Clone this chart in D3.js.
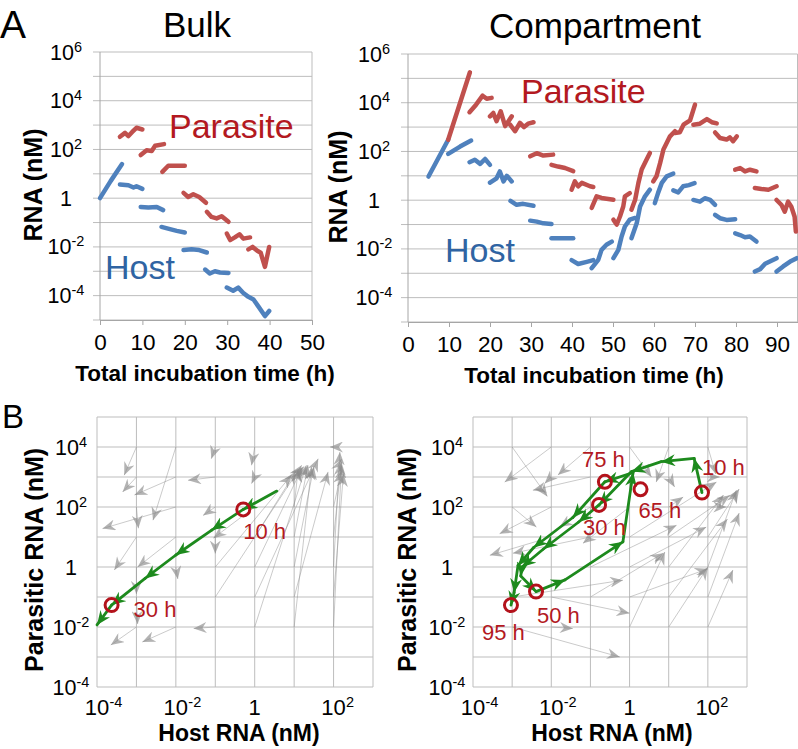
<!DOCTYPE html>
<html>
<head>
<meta charset="utf-8">
<script src="https://cdn.jsdelivr.net/npm/d3@7"></script>
<style>
  body { margin: 0; background: #fff; }
  svg { font-family: "Liberation Sans", Arial, sans-serif; }
</style>
</head>
<body>
<div id="chart"></div>
<script>
// ---- data (time in h, values as log10 of nM) ----
const bulkTimeTicks = [0, 10, 20, 30, 40, 50];
const compTimeTicks = [0, 10, 20, 30, 40, 50, 60, 70, 80, 90];
const topDecadeLabels = [6, 4, 2, 0, -2, -4];
const hostDecadeLabels = [-4, -2, 0, 2];
const parasiteDecadeLabels = [4, 2, 0, -2, -4];

// each inner list is one serial-transfer round: [time, log10 RNA]
const bulkHost = [
  [[0, 0], [2.5, 0.7], [5.2, 1.4]],
  [[4.7, 0.56], [6.7, 0.53], [7.9, 0.44], [8.6, 0.49], [10, 0.38]],
  [[9.6, -0.36], [11.4, -0.38], [13.4, -0.36], [14.9, -0.49]],
  [[14.5, -1.18], [16.5, -1.27], [18.1, -1.34], [20, -1.41]],
  [[19.7, -2.13], [21.6, -2.1], [23.4, -2.13], [25.2, -2.23]],
  [[24.8, -2.93], [25.9, -3.09], [27.1, -3.0], [28.3, -3.05], [30.3, -3.07]],
  [[29.9, -3.67], [31.4, -3.8], [32.6, -3.67], [33.8, -3.89], [35, -4.05], [36.2, -4.16], [37.3, -4.43], [38.9, -4.84], [39.9, -4.63]]
];
const bulkParasite = [
  [[4.7, 2.52], [5.9, 2.68], [6.7, 2.55], [7.6, 2.72], [8.6, 2.89], [10, 2.82]],
  [[9.6, 1.77], [11, 1.97], [12.2, 1.94], [13, 2.15], [15.1, 2.22]],
  [[14.7, 1.08], [16.1, 1.33], [20, 1.33]],
  [[19.7, 0.22], [20.8, 0.05], [22, 0.16], [23.4, 0.05], [25, -0.19]],
  [[25.2, -0.56], [26.3, -0.77], [27.5, -0.83], [28.7, -0.74], [30.3, -0.97]],
  [[29.9, -1.45], [30.7, -1.72], [31.8, -1.61], [32.9, -1.48], [33.8, -1.66], [35.4, -1.61]],
  [[35, -2.1], [36, -2.0], [37.1, -2.16], [37.9, -2.24], [38.9, -2.82], [39.9, -2.0]]
];
const compHost = [
  [[5, 0.97], [9.8, 2.48]],
  [[9.8, 1.9], [12.7, 2.2], [15.4, 2.45]],
  [[15, 1.56], [16.3, 1.66], [17.6, 1.49], [18.8, 1.69], [20, 1.45]],
  [[20, 0.72], [21.6, 0.9], [22.4, 1.18], [23.3, 0.77], [24.1, 1.0], [25.3, 0.77]],
  [[25, -0.03], [26.5, -0.19], [28.1, -0.15], [30.6, -0.23]],
  [[29.8, -0.84], [31.4, -0.88], [33, -0.95], [35, -0.98]],
  [[35, -1.56], [40.3, -1.56]],
  [[39.9, -2.46], [41.5, -2.62], [43.6, -2.53], [45.2, -2.46]],
  [[44.8, -2.79], [46.4, -2.45], [47.2, -2.04], [48.4, -1.83], [49.7, -1.7]],
  [[50.1, -2.38], [51.3, -2.04], [52.1, -1.49], [52.9, -1.08], [54.1, -0.8], [55.4, -0.73]],
  [[54.5, -1.56], [55.8, -0.94], [56.6, -0.26], [57.8, 0.16], [59, 0.43]],
  [[60.2, -0.12], [61, 0.3], [61.9, 0.71], [63.1, 0.98], [64.7, 1.09]],
  [[64.7, 0.4], [65.9, 0.32], [67.1, 0.57], [68.5, 0.62], [69.9, 0.7]],
  [[69.6, 0.01], [71.2, -0.06], [72.4, 0.08], [73.7, 0.01], [74.9, -0.19]],
  [[74.9, -0.6], [76.1, -0.74], [77.7, -0.81], [79.8, -0.78]],
  [[79.8, -1.36], [81, -1.43], [82.2, -1.52], [83.4, -1.49], [85, -1.7]],
  [[84.6, -2.93], [85.9, -2.83], [87.1, -2.61], [89.9, -2.38]],
  [[89.9, -2.93], [91.5, -2.72], [93.2, -2.52], [94.8, -2.38]]
];
const compParasite = [
  [[9.8, 2.48], [15.1, 5.25]],
  [[15, 3.61], [16.6, 3.92], [18.2, 4.29], [19.2, 4.16], [20.4, 4.2]],
  [[20, 3.44], [20.8, 3.58], [21.6, 3.24], [22.6, 3.65], [23.7, 3.04], [24.5, 3.24], [25.3, 3.44]],
  [[24.9, 3.1], [26.1, 2.83], [27.3, 3.17], [28.3, 3.0], [29.3, 3.14], [30.6, 3.2]],
  [[29.8, 1.8], [31.4, 1.93], [33, 1.83], [35.4, 1.87]],
  [[35, 1.45], [36.6, 1.38], [38.3, 1.32], [40.3, 1.19]],
  [[39.9, 0.43], [40.7, 0.77], [41.5, 0.57], [42.4, 0.71], [44.4, 0.57], [45.2, 0.54]],
  [[44.8, -0.32], [46, 0.16], [47.2, 0.09], [50.1, 0.02]],
  [[50.1, -0.8], [50.9, -1.0], [51.7, -0.67], [52.5, -0.26], [52.9, 0.16], [54.1, 0.29]],
  [[54.5, -0.39], [55.4, 0.02], [56.2, 0.71], [57, 1.26], [58.2, 1.67], [59, 1.94]],
  [[59.8, 0.77], [60.6, 0.98], [61.5, 1.53], [62.3, 2.08], [63.9, 2.62], [65.1, 2.83]],
  [[65.1, 2.76], [66.3, 2.79], [67.2, 3.1], [68.8, 3.28], [70, 3.92]],
  [[69.6, 3.1], [71.2, 3.14], [72.9, 3.33], [74.1, 3.2], [75.3, 3.15]],
  [[74.9, 2.78], [76.1, 2.55], [77.7, 2.49], [78.5, 2.58], [79.3, 2.42], [80.2, 2.62]],
  [[79.8, 1.25], [81, 1.32], [82.2, 1.18], [83.4, 1.25], [85, 1.18]],
  [[84.6, 0.5], [86.2, 0.46], [87.9, 0.43], [89.9, 0.57]],
  [[89.9, 0.01], [91.1, -0.2], [91.9, -0.47], [92.7, -0.06], [93.5, -0.27], [94.3, -0.68], [94.6, -1.29]]
];

// vector field: [log host start, log parasite start, log host end, log parasite end]
const bulkField = [
  [-3, 4, -3.31, 3.06], [-2, 4, -2.58, 1.56], [-1, 4, -1.1, 3.61], [0, 4, -0.08, 3.39],
  [-2, 3, -3.05, 2.4], [-3, 3, -3.35, 2.5], [-1, 3, -1.69, 2.89], [0, 3, -0.08, 2.78],
  [-2, 2, -3.86, 1.28], [-3, 2, -2.95, 1.29], [-1, 2, -1.31, 1.72], [0, 2, -1.05, 0.96],
  [-3, 1, -3.56, -0.1], [-2, 1, -2.97, 0.0], [-2, 0, -1.95, -0.4], [-3, 0, -3.0, -0.9],
  [-3, -1, -2.97, -1.9], [-3, -2, -3.65, -2.6], [-2, -2, -2.85, -2.5], [-1, -2, -1.55, -2.05],
  [-1, 1, -1.0, 0.45],
  [-1, 0, 0.93, 3.06], [-1, -1, 1.19, 3.39], [0, -2, 1.31, 3.39], [1, -2, 1.44, 3.33],
  [2, -2, 2.2, 3.39], [0, -1, 1.61, 3.61], [1, -1, 1.86, 3.17], [2, -1, 2.25, 3.11],
  [0, 0, 1.2, 3.3], [1, 0, 1.5, 3.35], [2, 0, 2.16, 3.83], [0, 1, 1.05, 3.2],
  [1, 1, 1.35, 3.4], [2, 1, 2.2, 3.5], [1, 2, 1.1, 3.25], [2, 2, 2.2, 3.2],
  [1, 3, 1.25, 3.35], [2, 3, 2.2, 3.6], [2, 4, 1.91, 4.0]
];
const compField = [
  [-3, 4, -2.1, 2.35], [-2, 4, -3.19, 2.83], [-1, 4, -1.83, 3.07], [-1, 3, -2.47, 2.56],
  [-2, 3, -2.17, 2.78], [-2, 2, -3.32, 1.11], [-3, 2, -2.38, 1.33], [-2, 1, -3.57, 0.39],
  [-1, 1, -2.98, 0.46], [-1, 2, -1.79, 1.33], [0, 2, -1.19, 0.79], [0, 4, 0.56, 3.0],
  [1, 4, 0.68, 2.83], [1, 3, 1.15, 2.67], [1, 2, 1.37, 2.33], [2, 4, 2.2, 3.1],
  [-3, -2, -0.25, -3.0], [-2, -2, -1.45, -2.05], [-3, -1, -0.17, -0.44], [-2, -1, 0.0, -1.54],
  [-1, -1, 0.86, 0.46], [0, -2, 0.9, 0.5], [1, -2, 2.0, 0.0], [2, -2, 2.64, -0.1],
  [0, -1, 2.0, -0.06], [1, -1, 2.5, 1.6], [2, -1, 2.8, 1.8], [-1, 0, 1.2, 1.39],
  [0, 0, 1.96, 1.33], [1, 0, 2.4, 2.4], [2, 0, 2.73, 2.56], [0, 1, 2.22, 2.83],
  [1, 1, 2.56, 2.39], [2, 1, 2.8, 2.6], [2, 2, 2.47, 2.0], [2, 3, 2.3, 3.0]
];

// green trajectories: [log host, log parasite]
const bulkTrajectory = [
  [[0.56, 2.53], [-0.29, 1.92], [-1.09, 1.23], [-2.0, 0.4], [-2.78, -0.38], [-3.63, -1.27], [-4.0, -1.93]]
];
const compTrajectory = [
  [[1.85, 2.48], [1.65, 3.62], [0.81, 3.51], [0.05, 3.18], [-0.78, 2.07], [-1.3, 1.5], [-2.2, 0.6], [-2.75, 0.0], [-2.78, -0.3], [-2.39, -0.82]],
  [[-2.39, -0.82], [-1.65, -0.43], [-0.17, 0.84], [0.09, 3.15]],
  [[0.09, 3.15], [-0.63, 2.84], [-1.45, 1.65], [-2.45, 0.65], [-2.85, 0.05], [-2.95, -0.85], [-3.03, -1.27]]
];
// time stamps on the trajectories: [log host, log parasite, label]
const bulkStamps = [[-0.29, 1.92, '10 h'], [-3.63, -1.27, '30 h']];
const compStamps = [
  [1.85, 2.48, '10 h'], [-0.78, 2.07, '30 h'], [-2.39, -0.82, '50 h'],
  [0.28, 2.59, '65 h'], [-0.63, 2.84, '75 h'], [-3.03, -1.27, '95 h']
];

// ---- drawing ----
const p10 = e => Math.pow(10, e);
const HOST_BLUE = '#4f81bd', PARA_RED = '#c0504d';
const TEXT_RED = '#b3191f', TEXT_BLUE = '#2f64a3';
const GRID = '#bdbdbd';

const svg = d3.select('#chart').append('svg')
  .attr('width', 798)
  .attr('height', 749);

const defs = svg.append('defs');
function addHead(id, color, len, wid, opacity) {
  defs.append('marker')
    .attr('id', id)
    .attr('viewBox', '0 0 ' + len + ' ' + wid)
    .attr('refX', len).attr('refY', wid / 2)
    .attr('markerWidth', len).attr('markerHeight', wid)
    .attr('markerUnits', 'userSpaceOnUse')
    .attr('orient', 'auto')
    .append('path')
    .attr('d', 'M0,0 L' + len + ',' + (wid / 2) + ' L0,' + wid + ' L' + (len * 0.32) + ',' + (wid / 2) + ' Z')
    .attr('fill', color)
    .attr('fill-opacity', opacity);
}
addHead('grey-head', '#8a8a8a', 13, 11, 0.65);
addHead('green-head', '#1d8a1d', 14, 12, 1);

// "10" with superscript exponent, or "1"
function powerText(text, e) {
  if (e === 0) { text.text('1'); return; }
  text.append('tspan').text('10');
  text.append('tspan')
    .attr('dy', -8)
    .attr('font-size', 14.5)
    .text(e < 0 ? '-' + (-e) : String(e));
}

function timePanel(o) {
  let x = d3.scaleLinear().domain([0, o.tMax]).range([o.left, o.right]),
      y = d3.scaleLog().domain([1e-5, 1e6]).range([o.bottom, o.top]);
  let g = svg.append('g');

  // one grid line per decade, poking out left of the axis as a tick
  g.selectAll('line.hgrid').data(d3.range(-5, 7)).enter()
    .append('line')
    .attr('x1', o.left - 7).attr('x2', o.right)
    .attr('y1', d => y(p10(d))).attr('y2', d => y(p10(d)))
    .attr('stroke', GRID);
  g.append('line')
    .attr('x1', o.left).attr('x2', o.left)
    .attr('y1', o.top).attr('y2', o.bottom)
    .attr('stroke', '#a6a6a6');
  g.append('line')
    .attr('x1', o.right).attr('x2', o.right)
    .attr('y1', o.top).attr('y2', o.bottom)
    .attr('stroke', GRID);

  let xAxis = d3.axisBottom(x).tickValues(o.ticks).tickSizeInner(5).tickSizeOuter(0).tickPadding(9);
  let ax = g.append('g')
    .attr('transform', 'translate(0,' + o.bottom + ')')
    .call(xAxis);
  ax.select('.domain').attr('stroke', '#a6a6a6');
  ax.selectAll('.tick line').attr('stroke', '#a6a6a6');
  ax.selectAll('.tick text')
    .attr('font-size', 22.5)
    .attr('font-family', '"Liberation Sans", Arial, sans-serif')
    .attr('fill', '#000');

  g.selectAll('text.ylab').data(topDecadeLabels).enter()
    .append('text')
    .attr('x', o.left - 34)
    .attr('y', d => y(p10(d)) + 7.5)
    .attr('text-anchor', 'middle')
    .attr('font-size', 21.5)
    .each(function (d) { powerText(d3.select(this), d); });

  let line = d3.line()
    .x(d => x(d[0]))
    .y(d => y(p10(d[1])));

  [[o.host, HOST_BLUE], [o.parasite, PARA_RED]].forEach(function (s) {
    g.selectAll(null).data(s[0]).enter()
      .append('path')
      .attr('d', line)
      .attr('fill', 'none')
      .attr('stroke', s[1])
      .attr('stroke-width', 4.5)
      .attr('stroke-linecap', 'round')
      .attr('stroke-linejoin', 'round');
  });

  g.append('text')
    .attr('x', o.title[1]).attr('y', o.title[2])
    .attr('text-anchor', 'middle')
    .attr('font-size', 35)
    .text(o.title[0]);
  g.append('text')
    .attr('transform', 'translate(' + o.yTitle[0] + ',' + o.yTitle[1] + ') rotate(-90)')
    .attr('text-anchor', 'middle')
    .attr('font-size', 25)
    .attr('font-weight', 'bold')
    .text('RNA (nM)');
  g.append('text')
    .attr('x', o.xTitle[0]).attr('y', o.xTitle[1])
    .attr('text-anchor', 'middle')
    .attr('font-size', 22.5)
    .attr('font-weight', 'bold')
    .text('Total incubation time (h)');
  g.append('text')
    .attr('x', o.paraLabel[0]).attr('y', o.paraLabel[1])
    .attr('font-size', 34).attr('fill', TEXT_RED)
    .text('Parasite');
  g.append('text')
    .attr('x', o.hostLabel[0]).attr('y', o.hostLabel[1])
    .attr('font-size', 34).attr('fill', TEXT_BLUE)
    .text('Host');
}

function phasePanel(o) {
  let x = d3.scaleLog().domain([1e-4, 1e3]).range([o.left, o.right]),
      y = d3.scaleLog().domain([1e-4, 1e5]).range([o.bottom, o.top]);
  let g = svg.append('g');

  g.selectAll('line.vgrid').data(d3.range(-4, 4)).enter()
    .append('line')
    .attr('x1', d => x(p10(d))).attr('x2', d => x(p10(d)))
    .attr('y1', o.top).attr('y2', o.bottom)
    .attr('stroke', GRID);
  g.selectAll('line.hgrid').data(d3.range(-4, 6)).enter()
    .append('line')
    .attr('x1', o.left).attr('x2', o.right)
    .attr('y1', d => y(p10(d))).attr('y2', d => y(p10(d)))
    .attr('stroke', GRID);

  // x tick labels: "10" centred on the grid line, exponent trailing
  g.selectAll('text.xbase').data(hostDecadeLabels).enter()
    .append('text')
    .attr('x', d => x(p10(d)))
    .attr('y', o.bottom + 28)
    .attr('text-anchor', 'middle')
    .attr('font-size', 22)
    .text(d => d === 0 ? '1' : '10');
  g.selectAll('text.xexp').data(hostDecadeLabels.filter(d => d !== 0)).enter()
    .append('text')
    .attr('x', d => x(p10(d)) + 12.5)
    .attr('y', o.bottom + 20)
    .attr('font-size', 14.5)
    .text(d => d < 0 ? '-' + (-d) : String(d));

  g.selectAll('text.ylab').data(parasiteDecadeLabels).enter()
    .append('text')
    .attr('x', o.left - 26)
    .attr('y', d => y(p10(d)) + 7.5)
    .attr('text-anchor', 'middle')
    .attr('font-size', 21.5)
    .each(function (d) { powerText(d3.select(this), d); });

  g.selectAll('line.field').data(o.field).enter()
    .append('line')
    .attr('x1', d => x(p10(d[0]))).attr('y1', d => y(p10(d[1])))
    .attr('x2', d => x(p10(d[2]))).attr('y2', d => y(p10(d[3])))
    .attr('stroke', '#8a8a8a')
    .attr('stroke-opacity', 0.5)
    .attr('stroke-width', 0.9)
    .attr('marker-end', 'url(#grey-head)');

  // trajectory: one arrow per step
  o.trajectory.forEach(function (path) {
    let steps = d3.pairs(path);
    g.selectAll(null).data(steps).enter()
      .append('line')
      .attr('x1', d => x(p10(d[0][0]))).attr('y1', d => y(p10(d[0][1])))
      .attr('x2', d => x(p10(d[1][0]))).attr('y2', d => y(p10(d[1][1])))
      .attr('stroke', '#1d8a1d')
      .attr('stroke-width', 2.8)
      .attr('stroke-linecap', 'round')
      .attr('marker-end', 'url(#green-head)');
  });

  g.selectAll('circle.stamp').data(o.stamps).enter()
    .append('circle')
    .attr('cx', d => x(p10(d[0]))).attr('cy', d => y(p10(d[1])))
    .attr('r', 6.5)
    .attr('fill', 'none')
    .attr('stroke', '#b3121b')
    .attr('stroke-width', 3);
  g.selectAll('text.stamp').data(o.stamps).enter()
    .append('text')
    .attr('x', d => x(p10(d[0])) + o.stampOffset[d[2]][0])
    .attr('y', d => y(p10(d[1])) + o.stampOffset[d[2]][1])
    .attr('font-size', 22)
    .attr('fill', TEXT_RED)
    .text(d => d[2]);

  g.append('text')
    .attr('transform', 'translate(' + o.yTitle[0] + ',' + o.yTitle[1] + ') rotate(-90)')
    .attr('text-anchor', 'middle')
    .attr('font-size', 25)
    .attr('font-weight', 'bold')
    .text('Parasitic RNA (nM)');
  g.append('text')
    .attr('x', o.xTitle[0]).attr('y', o.xTitle[1])
    .attr('text-anchor', 'middle')
    .attr('font-size', 23)
    .attr('font-weight', 'bold')
    .text('Host RNA (nM)');
}

timePanel({
  left: 100, right: 312, top: 52, bottom: 320, tMax: 50,
  ticks: bulkTimeTicks, host: bulkHost, parasite: bulkParasite,
  title: ['Bulk', 197, 37], yTitle: [42, 185], xTitle: [205, 381],
  paraLabel: [169, 138], hostLabel: [105, 279]
});
timePanel({
  left: 408, right: 797.5, top: 54, bottom: 322, tMax: 95,
  ticks: compTimeTicks, host: compHost, parasite: compParasite,
  title: ['Compartment', 595, 38], yTitle: [347, 187], xTitle: [594, 383],
  paraLabel: [521, 103], hostLabel: [445, 262]
});
phasePanel({
  left: 97, right: 373, top: 417, bottom: 687,
  field: bulkField, trajectory: bulkTrajectory, stamps: bulkStamps,
  stampOffset: { '10 h': [0, 30], '30 h': [22, 12] },
  yTitle: [43, 560], xTitle: [239, 741]
});
phasePanel({
  left: 473, right: 747, top: 417, bottom: 687,
  field: compField, trajectory: compTrajectory, stamps: compStamps,
  stampOffset: {
    '10 h': [0, -18], '30 h': [-16, 30], '50 h': [1, 31],
    '65 h': [-2, 29], '75 h': [-23, -15], '95 h': [-29, 35]
  },
  yTitle: [416, 560], xTitle: [612, 741]
});

svg.append('text').attr('x', 0).attr('y', 38).attr('font-size', 39).text('A');
svg.append('text').attr('x', 2).attr('y', 428).attr('font-size', 33).text('B');
</script>
</body>
</html>
